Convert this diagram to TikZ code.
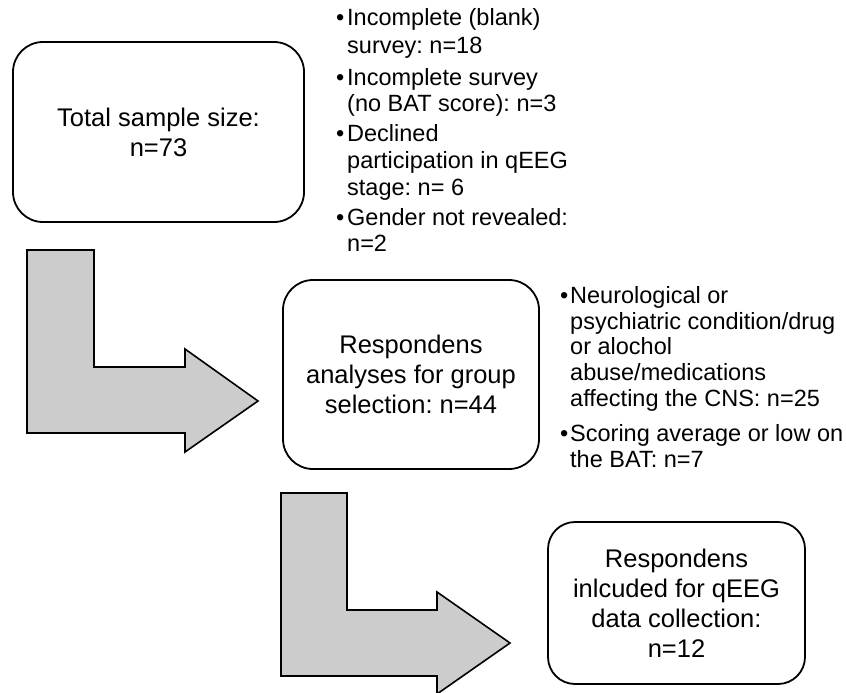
\documentclass[tikz,border=0pt]{standalone}
\usepackage{fontspec}
\setmainfont{Liberation Sans}
\definecolor{arrowgray}{HTML}{CCCCCC}
\begin{document}
\frenchspacing
\begin{tikzpicture}[x=1pt,y=-1pt,
  box/.style={draw=black, line width=1.8pt, rounded corners=#1, align=center,
    inner sep=0pt, fill=white, font=\fontsize{25.5}{30}\selectfont},
  blockarrow/.style={draw=black, line width=1.6pt, fill=arrowgray, line join=miter},
  txtline/.style={anchor=base west, inner sep=0pt, font=\fontsize{23.5}{26}\selectfont},
  bul/.style={anchor=base west, inner sep=0pt, font=\fontsize{23.5}{26}\selectfont}]
\useasboundingbox (0,0) rectangle (846,693);
\clip (0,0) rectangle (846,693);

% boxes
\node[box=30, minimum width=291pt, minimum height=180pt] (b1) at (158.5,132)
  {Total sample size:\\n=73};
\node[box=30, minimum width=256pt, minimum height=189pt] (b2) at (411,374.5)
  {Respondens\\analyses for group\\selection: n=44};
\node[box=27, minimum width=257pt, minimum height=162pt] (b3) at (676.5,603)
  {Respondens\\inlcuded for qEEG\\data collection:\\n=12};

% block arrows
\draw[blockarrow] (27,250) -- (94,250) -- (94,367) -- (185,367) -- (185,349)
  -- (258,401) -- (185,452) -- (185,433) -- (27,433) -- cycle;
\draw[blockarrow] (281,493) -- (347,493) -- (347,610) -- (437,610) -- (437,592)
  -- (510,643) -- (437,694) -- (437,676) -- (281,676) -- cycle;

% exclusion list 1
\node[bul] (p1) at (336,26) {•};
\node[txtline] (l1a) at (347,26) {Incomplete (blank)};
\node[txtline] (l1b) at (347,54) {survey: n=18};
\node[bul] (p2) at (336,85) {•};
\node[txtline] (l2a) at (347,85) {Incomplete survey};
\node[txtline] (l2b) at (347,111) {(no BAT score): n=3};
\node[bul] (p3) at (336,141) {•};
\node[txtline] (l3a) at (347,141) {Declined};
\node[txtline] (l3b) at (347,168) {participation in qEEG};
\node[txtline] (l3c) at (347,195) {stage: n= 6};
\node[bul] (p4) at (336,225) {•};
\node[txtline] (l4a) at (347,225) {Gender not revealed:};
\node[txtline] (l4b) at (347,251) {n=2};

% exclusion list 2
\node[bul] (q1) at (560,303) {•};
\node[txtline] (m1a) at (570,303) {Neurological or};
\node[txtline] (m1b) at (570,329) {psychiatric condition/drug};
\node[txtline] (m1c) at (570,354.5) {or alochol};
\node[txtline] (m1d) at (570,380) {abuse/medications};
\node[txtline] (m1e) at (570,406) {affecting the CNS: n=25};
\node[bul] (q2) at (560,441) {•};
\node[txtline] (m2a) at (570,441) {Scoring average or low on};
\node[txtline] (m2b) at (570,467) {the BAT: n=7};
\end{tikzpicture}
\end{document}
